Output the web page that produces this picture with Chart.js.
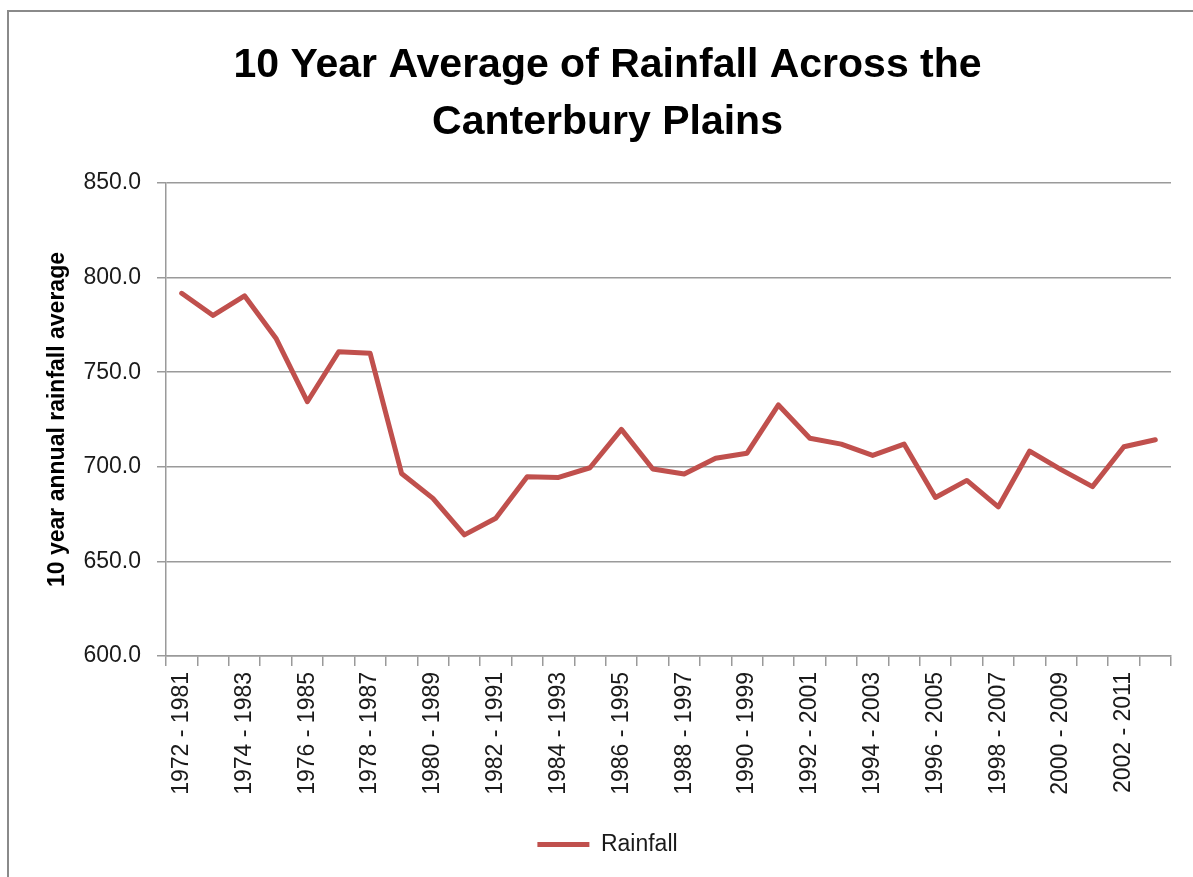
<!DOCTYPE html>
<html>
<head>
<meta charset="utf-8">
<title>10 Year Average of Rainfall Across the Canterbury Plains</title>
<script src="https://cdn.jsdelivr.net/npm/chart.js@4.4.1/dist/chart.umd.min.js"></script>
<style>
  html, body { margin: 0; padding: 0; background: #fff; overflow: hidden; }
  #frame {
    position: absolute; left: 7px; top: 10px;
    width: 1300px; height: 1000px;
    border: 2px solid #8a8a8a;
  }
  #wrap { position: absolute; left: 0; top: 0; width: 1193px; height: 877px; }
</style>
</head>
<body>
<div id="frame"></div>
<div id="wrap"><canvas id="rainChart"></canvas></div>
<script>
const periods = [
  '1972 - 1981', '1973 - 1982', '1974 - 1983', '1975 - 1984', '1976 - 1985', '1977 - 1986',
  '1978 - 1987', '1979 - 1988', '1980 - 1989', '1981 - 1990', '1982 - 1991', '1983 - 1992',
  '1984 - 1993', '1985 - 1994', '1986 - 1995', '1987 - 1996', '1988 - 1997', '1989 - 1998',
  '1990 - 1999', '1991 - 2000', '1992 - 2001', '1993 - 2002', '1994 - 2003', '1995 - 2004',
  '1996 - 2005', '1997 - 2006', '1998 - 2007', '1999 - 2008', '2000 - 2009', '2001 - 2010',
  '2002 - 2011', '2003 - 2012'
];
const rainfall = [
  791.7, 780.0, 790.4, 768.0, 734.4, 760.8, 760.0, 696.5, 683.3, 664.0, 672.8, 694.8,
  694.4, 699.5, 719.8, 698.8, 696.2, 704.5, 707.2, 732.7, 715.1, 712.0, 706.0, 712.0,
  683.8, 692.8, 678.8, 708.3, 698.5, 689.5, 710.6, 714.3
];
const yTicks = [600, 650, 700, 750, 800, 850];

const font = 'Liberation Sans, Arial, sans-serif';
const gridGray = '#9a9a9a';

new Chart(document.getElementById('rainChart'), {
  type: 'line',
  data: {
    labels: periods,
    datasets: [{
      label: 'Rainfall',
      data: rainfall,
      borderColor: '#C0504D',
      backgroundColor: '#C0504D',
      borderWidth: 5,
      borderJoinStyle: 'round',
      borderCapStyle: 'round',
      pointRadius: 0,
      tension: 0
    }]
  },
  options: {
    responsive: true,
    maintainAspectRatio: false,
    animation: false,
    layout: { padding: { left: 44, right: 22, top: 0, bottom: 11 } },
    plugins: {
      title: {
        display: true,
        text: ['10 Year Average of Rainfall Across the', 'Canterbury Plains'],
        color: '#000',
        font: { family: font, size: 41, weight: 'bold', lineHeight: 57 / 41 },
        padding: { top: 37.5, bottom: 31.5 }
      },
      legend: {
        position: 'bottom',
        labels: {
          usePointStyle: true,
          pointStyle: 'line',
          pointStyleWidth: 52,
          padding: 10,
          color: '#1a1a1a',
          font: { family: font, size: 23 }
        }
      },
      tooltip: { enabled: false }
    },
    scales: {
      x: {
        offset: true,
        grid: {
          offset: true,
          drawOnChartArea: false,
          drawTicks: true,
          tickLength: 10,
          color: gridGray,
          lineWidth: 1.5
        },
        border: { display: true, color: gridGray, width: 1.5 },
        ticks: {
          autoSkip: false,
          maxRotation: 90,
          minRotation: 90,
          padding: 6,
          color: '#1a1a1a',
          font: { family: font, size: 23 },
          callback: (value, index) => index % 2 === 0 ? periods[index] : ''
        },
        afterFit: scale => { scale.height = 167; }
      },
      y: {
        min: yTicks[0],
        max: yTicks[yTicks.length - 1],
        afterBuildTicks: scale => { scale.ticks = yTicks.map(v => ({ value: v })); },
        grid: {
          color: gridGray,
          lineWidth: 1.5,
          drawTicks: true,
          tickLength: 9
        },
        border: { display: true, color: gridGray, width: 1.5 },
        ticks: {
          padding: 16,
          color: '#1a1a1a',
          font: { family: font, size: 23 },
          callback: value => Number(value).toFixed(1)
        },
        title: {
          display: true,
          text: '10 year annual rainfall average',
          color: '#000',
          padding: { top: 0, bottom: 0 },
          font: { family: font, size: 23, weight: 'bold' }
        },
        afterFit: scale => { scale.width = 122; }
      }
    }
  }
});
</script>
</body>
</html>
